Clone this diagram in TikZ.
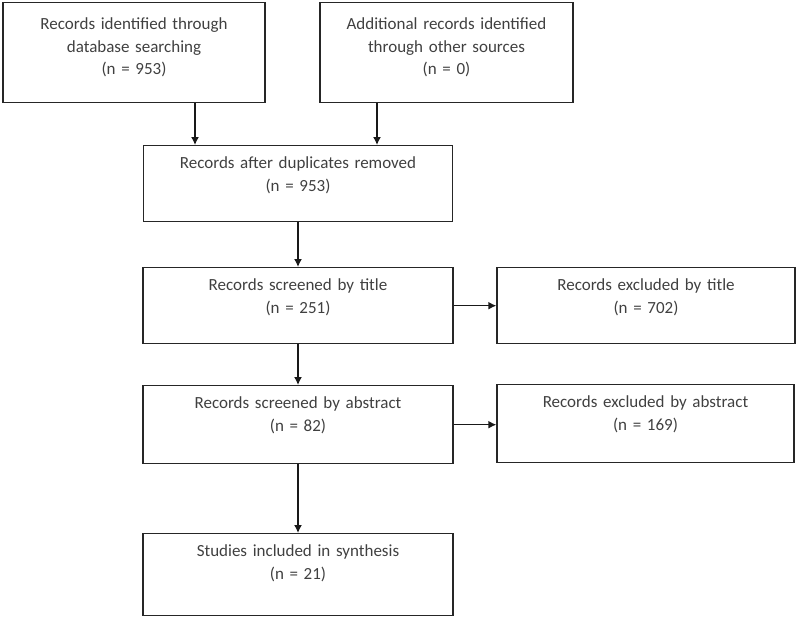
\documentclass[tikz,border=0pt]{standalone}
\usepackage{fontspec}
\setmainfont{Carlito}
\usetikzlibrary{arrows.meta, positioning, calc}

\begin{document}
\begin{tikzpicture}[x=1pt, y=-1pt,
    box/.style={draw=black!85, line width=1.4pt, align=center, anchor=north,
      inner xsep=0pt, inner ysep=0pt, text height=23pt, text=black!75,
      font=\fontsize{17}{22.5}\selectfont},
    arr/.style={draw=black!90, line width=1.4pt, -{Latex[length=8pt, width=8pt]}}]
    %\draw[step=50, gray!30, very thin] (0,0) grid (797,619);
    \useasboundingbox (0,0) rectangle (797,619);

    \node[box, text width=262pt, text height=27pt, text depth=73pt] (db) at (134,2)
      {Records identified through\\ database searching\\ (n = 953)};
    \node[box, text width=253pt, text height=27pt, text depth=73pt] (other) at (446.5,2)
      {Additional records identified\\ through other sources\\ (n = 0)};
    \node[box, text width=309pt, text depth=53pt] (dup) at (298,145)
      {Records after duplicates removed\\ (n = 953)};
    \node[box, text width=310pt, text depth=53pt] (title) at (298,267)
      {Records screened by title\\ (n = 251)};
    \node[box, text width=298pt, text depth=53pt] (extitle) at (646,267)
      {Records excluded by title\\ (n = 702)};
    \node[box, text width=310pt, text depth=55pt] (abstr) at (298,385)
      {Records screened by abstract\\ (n = 82)};
    \node[box, text width=297pt, text depth=55pt] (exabstr) at (645.5,384)
      {Records excluded by abstract\\ (n = 169)};
    \node[box, text width=310pt, text depth=59pt] (synth) at (298,533)
      {Studies included in synthesis\\ (n = 21)};

    \draw[arr] (db.south -| 195,0) -- (dup.north -| 195,0);
    \draw[arr] (other.south -| 377,0) -- (dup.north -| 377,0);
    \draw[arr] (dup.south) -- (dup.south |- title.north);
    \draw[arr] (title.south) -- (title.south |- abstr.north);
    \draw[arr] (abstr.south) -- (abstr.south |- synth.north);
    \draw[arr] (title.east) -- (title.east -| extitle.west);
    \draw[arr] (abstr.east) -- (abstr.east -| exabstr.west);

\end{tikzpicture}
\end{document}
